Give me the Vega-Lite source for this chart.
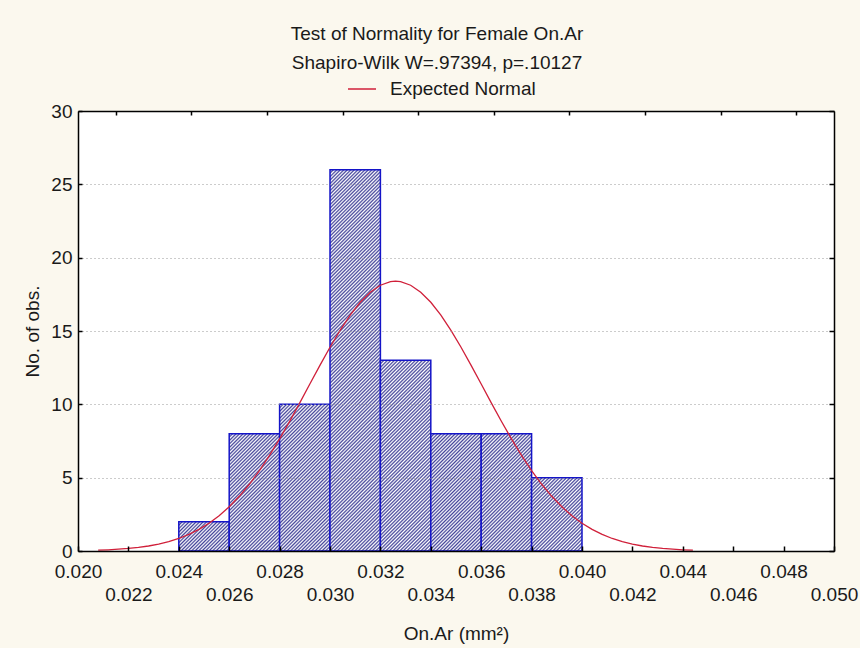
{
  "$schema": "https://vega.github.io/schema/vega-lite/v6.json",
  "width": 756,
  "height": 440,
  "autosize": {"type": "none"},
  "padding": {"left": 78, "top": 111, "right": 26, "bottom": 97},
  "background": "#FBF8EE",
  "params": [
    {"name": "hatchStops", "value": [
{"offset":0,"color":"#449"},{"offset":0.004,"color":"#fff"},{"offset":0.008,"color":"#449"},{"offset":0.012,"color":"#fff"},{"offset":0.016,"color":"#449"},{"offset":0.02,"color":"#fff"},{"offset":0.024,"color":"#449"},{"offset":0.028,"color":"#fff"},{"offset":0.032,"color":"#449"},{"offset":0.036,"color":"#fff"},
{"offset":0.04,"color":"#449"},{"offset":0.044,"color":"#fff"},{"offset":0.048,"color":"#449"},{"offset":0.052,"color":"#fff"},{"offset":0.056,"color":"#449"},{"offset":0.06,"color":"#fff"},{"offset":0.064,"color":"#449"},{"offset":0.068,"color":"#fff"},{"offset":0.072,"color":"#449"},{"offset":0.076,"color":"#fff"},
{"offset":0.08,"color":"#449"},{"offset":0.084,"color":"#fff"},{"offset":0.088,"color":"#449"},{"offset":0.092,"color":"#fff"},{"offset":0.096,"color":"#449"},{"offset":0.1,"color":"#fff"},{"offset":0.104,"color":"#449"},{"offset":0.108,"color":"#fff"},{"offset":0.112,"color":"#449"},{"offset":0.116,"color":"#fff"},
{"offset":0.12,"color":"#449"},{"offset":0.124,"color":"#fff"},{"offset":0.128,"color":"#449"},{"offset":0.132,"color":"#fff"},{"offset":0.136,"color":"#449"},{"offset":0.14,"color":"#fff"},{"offset":0.144,"color":"#449"},{"offset":0.148,"color":"#fff"},{"offset":0.152,"color":"#449"},{"offset":0.156,"color":"#fff"},
{"offset":0.16,"color":"#449"},{"offset":0.164,"color":"#fff"},{"offset":0.168,"color":"#449"},{"offset":0.172,"color":"#fff"},{"offset":0.176,"color":"#449"},{"offset":0.18,"color":"#fff"},{"offset":0.184,"color":"#449"},{"offset":0.188,"color":"#fff"},{"offset":0.192,"color":"#449"},{"offset":0.196,"color":"#fff"},
{"offset":0.2,"color":"#449"},{"offset":0.204,"color":"#fff"},{"offset":0.208,"color":"#449"},{"offset":0.212,"color":"#fff"},{"offset":0.216,"color":"#449"},{"offset":0.22,"color":"#fff"},{"offset":0.224,"color":"#449"},{"offset":0.228,"color":"#fff"},{"offset":0.232,"color":"#449"},{"offset":0.236,"color":"#fff"},
{"offset":0.24,"color":"#449"},{"offset":0.244,"color":"#fff"},{"offset":0.248,"color":"#449"},{"offset":0.252,"color":"#fff"},{"offset":0.256,"color":"#449"},{"offset":0.26,"color":"#fff"},{"offset":0.264,"color":"#449"},{"offset":0.268,"color":"#fff"},{"offset":0.272,"color":"#449"},{"offset":0.276,"color":"#fff"},
{"offset":0.28,"color":"#449"},{"offset":0.284,"color":"#fff"},{"offset":0.288,"color":"#449"},{"offset":0.292,"color":"#fff"},{"offset":0.296,"color":"#449"},{"offset":0.3,"color":"#fff"},{"offset":0.304,"color":"#449"},{"offset":0.308,"color":"#fff"},{"offset":0.312,"color":"#449"},{"offset":0.316,"color":"#fff"},
{"offset":0.32,"color":"#449"},{"offset":0.324,"color":"#fff"},{"offset":0.328,"color":"#449"},{"offset":0.332,"color":"#fff"},{"offset":0.336,"color":"#449"},{"offset":0.34,"color":"#fff"},{"offset":0.344,"color":"#449"},{"offset":0.348,"color":"#fff"},{"offset":0.352,"color":"#449"},{"offset":0.356,"color":"#fff"},
{"offset":0.36,"color":"#449"},{"offset":0.364,"color":"#fff"},{"offset":0.368,"color":"#449"},{"offset":0.372,"color":"#fff"},{"offset":0.376,"color":"#449"},{"offset":0.38,"color":"#fff"},{"offset":0.384,"color":"#449"},{"offset":0.388,"color":"#fff"},{"offset":0.392,"color":"#449"},{"offset":0.396,"color":"#fff"},
{"offset":0.4,"color":"#449"},{"offset":0.404,"color":"#fff"},{"offset":0.408,"color":"#449"},{"offset":0.412,"color":"#fff"},{"offset":0.416,"color":"#449"},{"offset":0.42,"color":"#fff"},{"offset":0.424,"color":"#449"},{"offset":0.428,"color":"#fff"},{"offset":0.432,"color":"#449"},{"offset":0.436,"color":"#fff"},
{"offset":0.44,"color":"#449"},{"offset":0.444,"color":"#fff"},{"offset":0.448,"color":"#449"},{"offset":0.452,"color":"#fff"},{"offset":0.456,"color":"#449"},{"offset":0.46,"color":"#fff"},{"offset":0.464,"color":"#449"},{"offset":0.468,"color":"#fff"},{"offset":0.472,"color":"#449"},{"offset":0.476,"color":"#fff"},
{"offset":0.48,"color":"#449"},{"offset":0.484,"color":"#fff"},{"offset":0.488,"color":"#449"},{"offset":0.492,"color":"#fff"},{"offset":0.496,"color":"#449"},{"offset":0.5,"color":"#fff"},{"offset":0.504,"color":"#449"},{"offset":0.508,"color":"#fff"},{"offset":0.512,"color":"#449"},{"offset":0.516,"color":"#fff"},
{"offset":0.52,"color":"#449"},{"offset":0.524,"color":"#fff"},{"offset":0.528,"color":"#449"},{"offset":0.532,"color":"#fff"},{"offset":0.536,"color":"#449"},{"offset":0.54,"color":"#fff"},{"offset":0.544,"color":"#449"},{"offset":0.548,"color":"#fff"},{"offset":0.552,"color":"#449"},{"offset":0.556,"color":"#fff"},
{"offset":0.56,"color":"#449"},{"offset":0.564,"color":"#fff"},{"offset":0.568,"color":"#449"},{"offset":0.572,"color":"#fff"},{"offset":0.576,"color":"#449"},{"offset":0.58,"color":"#fff"},{"offset":0.584,"color":"#449"},{"offset":0.588,"color":"#fff"},{"offset":0.592,"color":"#449"},{"offset":0.596,"color":"#fff"},
{"offset":0.6,"color":"#449"},{"offset":0.604,"color":"#fff"},{"offset":0.608,"color":"#449"},{"offset":0.612,"color":"#fff"},{"offset":0.616,"color":"#449"},{"offset":0.62,"color":"#fff"},{"offset":0.624,"color":"#449"},{"offset":0.628,"color":"#fff"},{"offset":0.632,"color":"#449"},{"offset":0.636,"color":"#fff"},
{"offset":0.64,"color":"#449"},{"offset":0.644,"color":"#fff"},{"offset":0.648,"color":"#449"},{"offset":0.652,"color":"#fff"},{"offset":0.656,"color":"#449"},{"offset":0.66,"color":"#fff"},{"offset":0.664,"color":"#449"},{"offset":0.668,"color":"#fff"},{"offset":0.672,"color":"#449"},{"offset":0.676,"color":"#fff"},
{"offset":0.68,"color":"#449"},{"offset":0.684,"color":"#fff"},{"offset":0.688,"color":"#449"},{"offset":0.692,"color":"#fff"},{"offset":0.696,"color":"#449"},{"offset":0.7,"color":"#fff"},{"offset":0.704,"color":"#449"},{"offset":0.708,"color":"#fff"},{"offset":0.712,"color":"#449"},{"offset":0.716,"color":"#fff"},
{"offset":0.72,"color":"#449"},{"offset":0.724,"color":"#fff"},{"offset":0.728,"color":"#449"},{"offset":0.732,"color":"#fff"},{"offset":0.736,"color":"#449"},{"offset":0.74,"color":"#fff"},{"offset":0.744,"color":"#449"},{"offset":0.748,"color":"#fff"},{"offset":0.752,"color":"#449"},{"offset":0.756,"color":"#fff"},
{"offset":0.76,"color":"#449"},{"offset":0.764,"color":"#fff"},{"offset":0.768,"color":"#449"},{"offset":0.772,"color":"#fff"},{"offset":0.776,"color":"#449"},{"offset":0.78,"color":"#fff"},{"offset":0.784,"color":"#449"},{"offset":0.788,"color":"#fff"},{"offset":0.792,"color":"#449"},{"offset":0.796,"color":"#fff"},
{"offset":0.8,"color":"#449"},{"offset":0.804,"color":"#fff"},{"offset":0.808,"color":"#449"},{"offset":0.812,"color":"#fff"},{"offset":0.816,"color":"#449"},{"offset":0.82,"color":"#fff"},{"offset":0.824,"color":"#449"},{"offset":0.828,"color":"#fff"},{"offset":0.832,"color":"#449"},{"offset":0.836,"color":"#fff"},
{"offset":0.84,"color":"#449"},{"offset":0.844,"color":"#fff"},{"offset":0.848,"color":"#449"},{"offset":0.852,"color":"#fff"},{"offset":0.856,"color":"#449"},{"offset":0.86,"color":"#fff"},{"offset":0.864,"color":"#449"},{"offset":0.868,"color":"#fff"},{"offset":0.872,"color":"#449"},{"offset":0.876,"color":"#fff"},
{"offset":0.88,"color":"#449"},{"offset":0.884,"color":"#fff"},{"offset":0.888,"color":"#449"},{"offset":0.892,"color":"#fff"},{"offset":0.896,"color":"#449"},{"offset":0.9,"color":"#fff"},{"offset":0.904,"color":"#449"},{"offset":0.908,"color":"#fff"},{"offset":0.912,"color":"#449"},{"offset":0.916,"color":"#fff"},
{"offset":0.92,"color":"#449"},{"offset":0.924,"color":"#fff"},{"offset":0.928,"color":"#449"},{"offset":0.932,"color":"#fff"},{"offset":0.936,"color":"#449"},{"offset":0.94,"color":"#fff"},{"offset":0.944,"color":"#449"},{"offset":0.948,"color":"#fff"},{"offset":0.952,"color":"#449"},{"offset":0.956,"color":"#fff"},
{"offset":0.96,"color":"#449"},{"offset":0.964,"color":"#fff"},{"offset":0.968,"color":"#449"},{"offset":0.972,"color":"#fff"},{"offset":0.976,"color":"#449"},{"offset":0.98,"color":"#fff"},{"offset":0.984,"color":"#449"},{"offset":0.988,"color":"#fff"},{"offset":0.992,"color":"#449"},{"offset":0.996,"color":"#fff"},
{"offset":1,"color":"#449"}
    ]}
  ],
  "title": {
    "text": ["Test of Normality for Female On.Ar", "Shapiro-Wilk W=.97394, p=.10127"],
    "fontSize": 19,
    "fontWeight": "normal",
    "font": "Liberation Sans",
    "color": "#1a1a1a",
    "lineHeight": 29,
    "anchor": "middle",
    "frame": "group",
    "dx": -19,
    "offset": 1
  },
  "datasets": {
    "bars": [
      {"bin_start": 0.024, "bin_end": 0.026, "count": 2},
      {"bin_start": 0.026, "bin_end": 0.028, "count": 8},
      {"bin_start": 0.028, "bin_end": 0.030, "count": 10},
      {"bin_start": 0.030, "bin_end": 0.032, "count": 26},
      {"bin_start": 0.032, "bin_end": 0.034, "count": 13},
      {"bin_start": 0.034, "bin_end": 0.036, "count": 8},
      {"bin_start": 0.036, "bin_end": 0.038, "count": 8},
      {"bin_start": 0.038, "bin_end": 0.040, "count": 5}
    ],
    "curve": [
      {"x": 0.0208, "y": 0.057, "series": "Expected Normal"},
      {"x": 0.0212, "y": 0.083, "series": "Expected Normal"},
      {"x": 0.0216, "y": 0.121, "series": "Expected Normal"},
      {"x": 0.0220, "y": 0.173, "series": "Expected Normal"},
      {"x": 0.0224, "y": 0.245, "series": "Expected Normal"},
      {"x": 0.0228, "y": 0.341, "series": "Expected Normal"},
      {"x": 0.0232, "y": 0.469, "series": "Expected Normal"},
      {"x": 0.0236, "y": 0.637, "series": "Expected Normal"},
      {"x": 0.0240, "y": 0.853, "series": "Expected Normal"},
      {"x": 0.0244, "y": 1.128, "series": "Expected Normal"},
      {"x": 0.0248, "y": 1.471, "series": "Expected Normal"},
      {"x": 0.0252, "y": 1.893, "series": "Expected Normal"},
      {"x": 0.0256, "y": 2.404, "series": "Expected Normal"},
      {"x": 0.0260, "y": 3.014, "series": "Expected Normal"},
      {"x": 0.0264, "y": 3.728, "series": "Expected Normal"},
      {"x": 0.0268, "y": 4.550, "series": "Expected Normal"},
      {"x": 0.0272, "y": 5.481, "series": "Expected Normal"},
      {"x": 0.0276, "y": 6.514, "series": "Expected Normal"},
      {"x": 0.0280, "y": 7.640, "series": "Expected Normal"},
      {"x": 0.0284, "y": 8.843, "series": "Expected Normal"},
      {"x": 0.0288, "y": 10.100, "series": "Expected Normal"},
      {"x": 0.0292, "y": 11.382, "series": "Expected Normal"},
      {"x": 0.0296, "y": 12.659, "series": "Expected Normal"},
      {"x": 0.0300, "y": 13.893, "series": "Expected Normal"},
      {"x": 0.0304, "y": 15.046, "series": "Expected Normal"},
      {"x": 0.0308, "y": 16.079, "series": "Expected Normal"},
      {"x": 0.0312, "y": 16.957, "series": "Expected Normal"},
      {"x": 0.0316, "y": 17.647, "series": "Expected Normal"},
      {"x": 0.0320, "y": 18.122, "series": "Expected Normal"},
      {"x": 0.0324, "y": 18.364, "series": "Expected Normal"},
      {"x": 0.0326, "y": 18.395, "series": "Expected Normal"},
      {"x": 0.0328, "y": 18.364, "series": "Expected Normal"},
      {"x": 0.0332, "y": 18.122, "series": "Expected Normal"},
      {"x": 0.0336, "y": 17.647, "series": "Expected Normal"},
      {"x": 0.0340, "y": 16.957, "series": "Expected Normal"},
      {"x": 0.0344, "y": 16.079, "series": "Expected Normal"},
      {"x": 0.0348, "y": 15.046, "series": "Expected Normal"},
      {"x": 0.0352, "y": 13.893, "series": "Expected Normal"},
      {"x": 0.0356, "y": 12.659, "series": "Expected Normal"},
      {"x": 0.0360, "y": 11.382, "series": "Expected Normal"},
      {"x": 0.0364, "y": 10.100, "series": "Expected Normal"},
      {"x": 0.0368, "y": 8.843, "series": "Expected Normal"},
      {"x": 0.0372, "y": 7.640, "series": "Expected Normal"},
      {"x": 0.0376, "y": 6.514, "series": "Expected Normal"},
      {"x": 0.0380, "y": 5.481, "series": "Expected Normal"},
      {"x": 0.0384, "y": 4.550, "series": "Expected Normal"},
      {"x": 0.0388, "y": 3.728, "series": "Expected Normal"},
      {"x": 0.0392, "y": 3.014, "series": "Expected Normal"},
      {"x": 0.0396, "y": 2.404, "series": "Expected Normal"},
      {"x": 0.0400, "y": 1.893, "series": "Expected Normal"},
      {"x": 0.0404, "y": 1.471, "series": "Expected Normal"},
      {"x": 0.0408, "y": 1.128, "series": "Expected Normal"},
      {"x": 0.0412, "y": 0.853, "series": "Expected Normal"},
      {"x": 0.0416, "y": 0.637, "series": "Expected Normal"},
      {"x": 0.0420, "y": 0.469, "series": "Expected Normal"},
      {"x": 0.0424, "y": 0.341, "series": "Expected Normal"},
      {"x": 0.0428, "y": 0.245, "series": "Expected Normal"},
      {"x": 0.0432, "y": 0.173, "series": "Expected Normal"},
      {"x": 0.0436, "y": 0.121, "series": "Expected Normal"},
      {"x": 0.0440, "y": 0.083, "series": "Expected Normal"},
      {"x": 0.0444, "y": 0.057, "series": "Expected Normal"}
    ]
  },
  "layer": [
    {
      "data": {"name": "bars"},
      "mark": {
        "type": "rect",
        "fill": {"expr": "{gradient: 'linear', x1: 0, y1: 0, x2: 437.5 * (scale('x', datum.bin_end) - scale('x', datum.bin_start)) / (pow(scale('x', datum.bin_end) - scale('x', datum.bin_start), 2) + pow(scale('y', 0) - scale('y', datum.count), 2)), y2: 437.5 * (scale('y', 0) - scale('y', datum.count)) / (pow(scale('x', datum.bin_end) - scale('x', datum.bin_start), 2) + pow(scale('y', 0) - scale('y', datum.count), 2)), stops: hatchStops}"},
        "stroke": "#1414c8",
        "strokeWidth": 1.5
      },
      "encoding": {
        "x": {
          "field": "bin_start",
          "type": "quantitative",
          "scale": {"domain": [0.02, 0.05], "nice": false, "zero": false},
          "axis": {
            "orient": "bottom",
            "values": [0.020, 0.022, 0.024, 0.026, 0.028, 0.030, 0.032, 0.034, 0.036, 0.038, 0.040, 0.042, 0.044, 0.046, 0.048, 0.050],
            "format": ".3f",
            "labelExpr": "round(datum.value*1000) % 4 == 2 ? ['', datum.label] : datum.label",
            "labelLineHeight": 23,
            "title": "On.Ar (mm²)",
            "titleFontSize": 19,
            "titleFontWeight": "normal",
            "titleFont": "Liberation Sans",
            "titleColor": "#1a1a1a",
            "titleY": 73,
            "titleBaseline": "top",
            "labelFontSize": 19,
            "labelFont": "Liberation Sans",
            "labelColor": "#1a1a1a",
            "labelPadding": 16,
            "labelOverlap": false,
            "labelFlush": false,
            "labelBound": false,
            "tickSize": -5,
            "tickColor": "#000",
            "tickWidth": 1.5,
            "domainColor": "#000",
            "domainWidth": 1.5,
            "grid": false,
            "zindex": 1
          }
        },
        "x2": {"field": "bin_end"},
        "y": {
          "field": "count",
          "type": "quantitative",
          "scale": {"domain": [0, 30], "nice": false},
          "axis": {
            "orient": "left",
            "values": [0, 5, 10, 15, 20, 25, 30],
            "title": "No. of obs.",
            "titleFontSize": 19,
            "titleFontWeight": "normal",
            "titleFont": "Liberation Sans",
            "titleColor": "#1a1a1a",
            "titlePadding": 8,
            "labelFontSize": 19,
            "labelFont": "Liberation Sans",
            "labelColor": "#1a1a1a",
            "labelPadding": 10,
            "tickSize": -4,
            "tickColor": "#000",
            "tickWidth": 1.5,
            "domainColor": "#000",
            "domainWidth": 1.5,
            "grid": true,
            "gridDash": [1, 3],
            "gridColor": "#999999",
            "gridWidth": 1,
            "zindex": 1
          }
        },
        "y2": {"datum": 0}
      }
    },
    {
      "data": {"name": "curve"},
      "mark": {"type": "line", "strokeWidth": 1.3},
      "encoding": {
        "x": {
          "field": "x",
          "type": "quantitative",
          "scale": {"domain": [0.02, 0.05], "nice": false, "zero": false},
          "axis": {
            "orient": "top",
            "values": [0.0215, 0.0245, 0.0275, 0.0305, 0.0335, 0.0365, 0.0395, 0.0425, 0.0455, 0.0485],
            "labels": false,
            "title": null,
            "tickSize": -4,
            "tickColor": "#000",
            "tickWidth": 1.5,
            "domainColor": "#000",
            "domainWidth": 1.5,
            "grid": false,
            "zindex": 1
          }
        },
        "y": {
          "field": "y",
          "type": "quantitative",
          "scale": {"domain": [0, 30], "nice": false},
          "axis": {
            "orient": "right",
            "values": [0, 5, 10, 15, 20, 25, 30],
            "labels": false,
            "title": null,
            "tickSize": -5,
            "tickColor": "#000",
            "tickWidth": 1.5,
            "domainColor": "#000",
            "domainWidth": 1.5,
            "grid": false,
            "zindex": 1
          }
        },
        "color": {
          "field": "series",
          "type": "nominal",
          "scale": {"range": ["#d0203a"]},
          "legend": {
            "orient": "none",
            "legendX": 269,
            "legendY": -37,
            "title": null,
            "symbolType": "stroke",
            "symbolSize": 784,
            "symbolStrokeWidth": 1.5,
            "labelFontSize": 19,
            "labelFont": "Liberation Sans",
            "labelColor": "#1a1a1a",
            "labelOffset": 13,
            "padding": 0
          }
        }
      }
    }
  ],
  "resolve": {"axis": {"x": "independent", "y": "independent"}},
  "config": {
    "view": {"fill": "white", "stroke": null},
    "font": "Liberation Sans"
  }
}
